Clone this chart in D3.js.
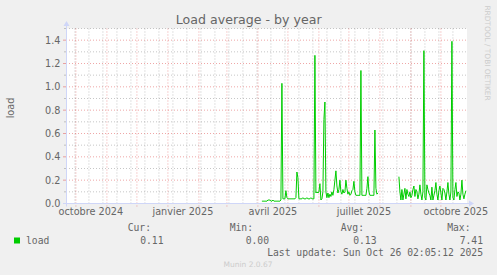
<!DOCTYPE html>
<html>
<head>
<meta charset="utf-8">
<script src="https://cdn.jsdelivr.net/npm/d3@7"></script>
<style>
  body { margin: 0; background: #f0f0f0; }
  svg { display: block; }
</style>
</head>
<body>
<svg id="chart"></svg>
<script>
const width = 497;
const height = 275;

// time window: 400 days ending at last update
const graphEnd = "2025-10-26T02:05:12Z";
const graphDays = 400;

// daily averages, first segment (starts 2025-04-05), second (starts 2025-08-20)
const seg1Start = "2025-04-05";
const seg1Load = [
  0.02, 0.02, 0.02, 0.02, 0.02, 0.02, 0.03, 0.03, 0.03, 0.02,
  0.02, 0.03, 0.02, 0.02, 0.02, 0.02, 0.02, 0.02, 0.02, 0.03,
  1.03, 0.04, 0.04, 0.04, 0.11, 0.05, 0.04, 0.04, 0.04, 0.04,
  0.04, 0.04, 0.04, 0.04, 0.05, 0.27, 0.22, 0.04, 0.04, 0.04,
  0.04, 0.05, 0.04, 0.04, 0.04, 0.05, 0.04, 0.04, 0.04, 0.05,
  0.04, 0.04, 0.04, 1.27, 0.09, 0.10, 0.09, 0.10, 0.17, 0.03,
  0.04, 0.10, 0.72, 0.87, 0.10, 0.05, 0.09, 0.05, 0.08, 0.06,
  0.10, 0.07, 0.12, 0.20, 0.28, 0.15, 0.09, 0.12, 0.20, 0.10,
  0.08, 0.12, 0.09, 0.10, 0.20, 0.13, 0.08, 0.10, 0.07, 0.08,
  0.11, 0.12, 0.19, 0.10, 0.07, 0.07, 0.07, 0.07, 0.07, 1.14,
  0.07, 0.07, 0.07, 0.07, 0.07, 0.13, 0.23, 0.10, 0.07, 0.07,
  0.07, 0.07, 0.07, 0.63, 0.13, 0.08, 0.09
];
const seg2Start = "2025-08-20";
const seg2Load = [
  0.23, 0.10, 0.03, 0.12, 0.03, 0.08, 0.13, 0.04, 0.12, 0.08,
  0.06, 0.10, 0.05, 0.07, 0.12, 0.15, 0.06, 0.12, 0.10, 0.04,
  0.08, 0.16, 0.08, 0.03, 0.10, 1.31, 0.05, 0.03, 0.16, 0.12,
  0.09, 0.07, 0.03, 0.14, 0.03, 0.07, 0.11, 0.18, 0.08, 0.03,
  0.11, 0.15, 0.09, 0.03, 0.13, 0.12, 0.09, 0.03, 0.10, 0.18,
  0.08, 0.03, 0.10, 1.39, 0.05, 0.03, 0.12, 0.18, 0.06, 0.10,
  0.09, 0.03, 0.08, 0.20, 0.08, 0.04, 0.08, 0.11
];

const yTicks = [0.0, 0.2, 0.4, 0.6, 0.8, 1.0, 1.2, 1.4];
const xLabelMonths = ["2024-10-01", "2025-01-01", "2025-04-01", "2025-07-01", "2025-10-01"];
const xLabels = ["octobre 2024", "janvier 2025", "avril 2025", "juillet 2025", "octobre 2025"];
const minorAnchor = "2024-09-30";

const legendHeads = ["Cur:", "Min:", "Avg:", "Max:"];
const legendValues = ["0.11", "0.00", "0.13", "7.41"];

const colors = {
	canvas: "#ffffff",
	axis: "#cfd6f8",
	grid: "rgba(144,144,144,0.5)",
	mgrid: "rgba(224,80,80,0.5)",
	font: "#666666",
	line: "#00cc00"
};

const parseDay = d3.utcParse("%Y-%m-%d");
const endTime = new Date(graphEnd);
const startTime = d3.utcDay.offset(endTime, -graphDays);

const plotLeft = 66, plotRight = 466, plotTop = 28.5, plotBottom = 203.5;

let x = d3.scaleUtc().domain([startTime, endTime]).range([plotLeft, plotRight]);
let y = d3.scaleLinear().domain([0, 1.5]).range([plotBottom, plotTop]);

let svg = d3.select("#chart")
	.attr("width", width)
	.attr("height", height)
	.style("font-family", "'DejaVu Sans', sans-serif");

svg.append("rect")
	.attr("width", width).attr("height", height)
	.attr("fill", "#f0f0f0");

svg.append("rect")
	.attr("x", plotLeft).attr("y", plotTop)
	.attr("width", plotRight - plotLeft + 1).attr("height", plotBottom - plotTop)
	.attr("fill", colors.canvas);

// horizontal grid
let grid = svg.append("g");
d3.range(1, 16).forEach(i => {
	const v = i / 10;
	const major = i % 2 === 0;
	const yy = y(v);
	grid.append("line")
		.attr("x1", plotLeft - (major ? 3 : 2)).attr("x2", plotLeft)
		.attr("y1", yy).attr("y2", yy)
		.attr("stroke", major ? colors.mgrid : colors.grid);
	grid.append("line")
		.attr("x1", plotLeft).attr("x2", plotRight + 2)
		.attr("y1", yy).attr("y2", yy)
		.attr("stroke", major ? colors.mgrid : colors.grid)
		.attr("stroke-dasharray", "1,2");
});

// vertical grid: every 2 weeks (minor) and every month (major)
let minorDays = d3.utcDay.range(parseDay(minorAnchor), endTime).filter((d, i) => i % 14 === 0);
minorDays.forEach(d => {
	const xx = x(d);
	grid.append("line")
		.attr("x1", xx).attr("x2", xx)
		.attr("y1", plotTop).attr("y2", plotBottom + 2)
		.attr("stroke", colors.grid)
		.attr("stroke-dasharray", "1,2");
});
d3.utcMonth.range(d3.utcMonth.ceil(startTime), endTime).forEach(d => {
	const xx = x(d);
	grid.append("line")
		.attr("x1", xx).attr("x2", xx)
		.attr("y1", plotTop).attr("y2", plotBottom + 3)
		.attr("stroke", colors.mgrid)
		.attr("stroke-dasharray", "1,2");
});

// y labels
svg.append("g").selectAll("text")
	.data(yTicks)
	.join("text")
	.attr("x", 60.5)
	.attr("y", d => y(d) + 3.4)
	.attr("text-anchor", "end")
	.attr("font-size", 9.7)
	.attr("fill", colors.font)
	.text(d => d3.format(".1f")(d));

// x labels, centred half a month after the tick
svg.append("g").selectAll("text")
	.data(xLabelMonths)
	.join("text")
	.attr("x", d => x(d3.utcDay.offset(parseDay(d), 15)))
	.attr("y", 214.5)
	.attr("text-anchor", "middle")
	.attr("font-size", 9.7)
	.attr("fill", colors.font)
	.text((d, i) => xLabels[i]);

// data
let line = d3.line()
	.x(d => x(d.date))
	.y(d => y(d.value));

function toPoints(startDay, values) {
	const s = parseDay(startDay);
	return values.map((v, i) => ({date: d3.utcDay.offset(s, i), value: v}));
}

[toPoints(seg1Start, seg1Load), toPoints(seg2Start, seg2Load)].forEach(pts => {
	svg.append("path")
		.attr("d", line(pts))
		.attr("fill", "none")
		.attr("stroke", colors.line)
		.attr("stroke-width", 1);
});

// axes with arrows
svg.append("line")
	.attr("x1", plotLeft - 3).attr("x2", plotRight + 4)
	.attr("y1", plotBottom).attr("y2", plotBottom)
	.attr("stroke", colors.axis);
svg.append("line")
	.attr("x1", plotLeft + 0.5).attr("x2", plotLeft + 0.5)
	.attr("y1", plotBottom + 3).attr("y2", plotTop - 3)
	.attr("stroke", colors.axis);
svg.append("polygon")
	.attr("points", `${plotRight + 3},${plotBottom - 3} ${plotRight + 8},${plotBottom} ${plotRight + 3},${plotBottom + 3}`)
	.attr("fill", colors.axis);
svg.append("polygon")
	.attr("points", `${plotLeft - 2.5},${plotTop - 2.5} ${plotLeft + 0.5},${plotTop - 7.5} ${plotLeft + 3.5},${plotTop - 2.5}`)
	.attr("fill", colors.axis);

// title
svg.append("text")
	.attr("x", 248.7).attr("y", 24)
	.attr("text-anchor", "middle")
	.attr("font-size", 12.6)
	.attr("fill", colors.font)
	.text("Load average - by year");

// unit label
svg.append("text")
	.attr("transform", "translate(14,108) rotate(-90)")
	.attr("text-anchor", "middle")
	.attr("font-size", 9.7)
	.attr("fill", colors.font)
	.text("load");

// watermark on the right
svg.append("text")
	.attr("transform", "translate(485,53) rotate(90)")
	.attr("text-anchor", "middle")
	.attr("font-size", 7.4)
	.attr("fill", "#cccccc")
	.text("RRDTOOL / TOBI OETIKER");

// legend
let legend = svg.append("g")
	.style("font-family", "'DejaVu Sans Mono', monospace")
	.attr("font-size", 9.7)
	.attr("fill", colors.font);

const headEnds = [151, 253, 364, 470.5];
const valueEnds = [163.5, 269, 376.5, 483];
legendHeads.forEach((h, i) => {
	legend.append("text")
		.attr("x", headEnds[i]).attr("y", 231)
		.attr("text-anchor", "end")
		.text(h);
	legend.append("text")
		.attr("x", valueEnds[i]).attr("y", 243.5)
		.attr("text-anchor", "end")
		.text(legendValues[i]);
});
legend.append("rect")
	.attr("x", 14).attr("y", 237.5)
	.attr("width", 6).attr("height", 6)
	.attr("fill", colors.line);
legend.append("text")
	.attr("x", 26).attr("y", 243.5)
	.text("load");
legend.append("text")
	.attr("x", 483).attr("y", 256)
	.attr("text-anchor", "end")
	.text("Last update: Sun Oct 26 02:05:12 2025");

svg.append("text")
	.attr("x", 248).attr("y", 266.5)
	.attr("text-anchor", "middle")
	.attr("font-size", 7.5)
	.attr("fill", "#cccccc")
	.text("Munin 2.0.67");
</script>
</body>
</html>
